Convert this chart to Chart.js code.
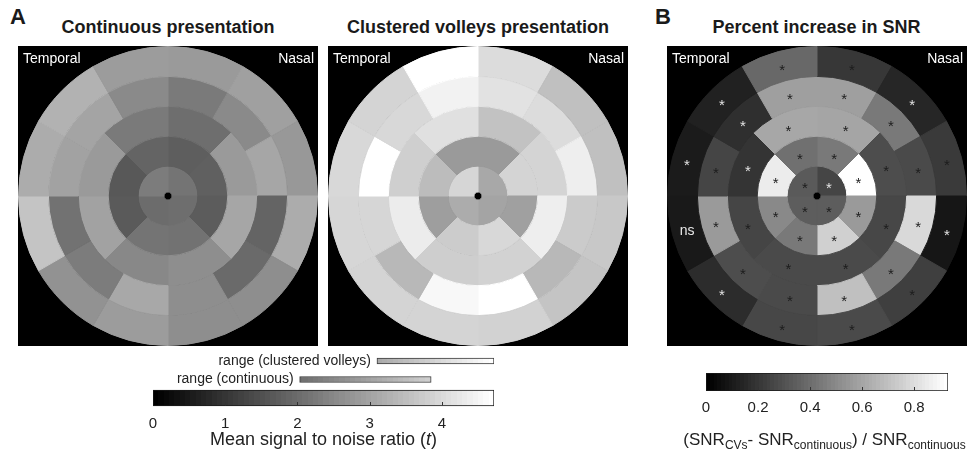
<!DOCTYPE html>
<html>
<head>
<meta charset="utf-8">
<script src="https://cdn.jsdelivr.net/npm/chart.js@4.4.1/dist/chart.umd.min.js"></script>
<style>
  body { margin: 0; background: #fff; font-family: "Liberation Sans", Arial, sans-serif; color: #1a1a1a; }
  #page { position: relative; width: 971px; height: 455px; overflow: hidden; }
  .txt { position: absolute; white-space: nowrap; line-height: 1; }
  .letter { font-size: 22px; font-weight: bold; top: 6.4px; }
  .title { font-size: 18px; font-weight: bold; top: 17.8px; width: 400px; text-align: center; }
  .panel { position: absolute; top: 46px; width: 300px; height: 300px; background: #000; }
  .side { position: absolute; top: 4.6px; color: #fff; font-size: 14px; line-height: 1; z-index: 2; }
  .box { position: absolute; }
  sub { font-size: 12px; vertical-align: -4px; line-height: 0; }
</style>
</head>
<body>
<div id="page">
  <div class="txt letter" style="left:10px">A</div>
  <div class="txt letter" style="left:655px">B</div>
  <div class="txt title" style="left:-32px">Continuous presentation</div>
  <div class="txt title" style="left:278px">Clustered volleys presentation</div>
  <div class="txt title" style="left:616.5px">Percent increase in SNR</div>

  <div class="panel" style="left:18px">
    <span class="side" style="left:5px">Temporal</span><span class="side" style="right:4px">Nasal</span>
    <canvas id="cont"></canvas>
  </div>
  <div class="panel" style="left:328px">
    <span class="side" style="left:5px">Temporal</span><span class="side" style="right:4px">Nasal</span>
    <canvas id="clus"></canvas>
  </div>
  <div class="panel" style="left:667px">
    <span class="side" style="left:5px">Temporal</span><span class="side" style="right:4px">Nasal</span>
    <canvas id="gain"></canvas>
  </div>

  <div class="box" style="left:0;top:340px;width:520px;height:100px"><canvas id="barA"></canvas></div>
  <div class="box" style="left:660px;top:360px;width:311px;height:70px"><canvas id="barB"></canvas></div>

  <div class="txt" style="left:123.5px;width:400px;text-align:center;top:429.8px;font-size:18px;color:#222">Mean signal to noise ratio (<i>t</i>)</div>
  <div class="txt" style="left:624.5px;width:400px;text-align:center;top:431.3px;font-size:17px;color:#222">(SNR<sub>CVs</sub>- SNR<sub>continuous</sub>) / SNR<sub>continuous</sub></div>
</div>

<script>
// sectors go clockwise from 12 o'clock; ring 1 is the centre, ring 5 the rim
const CONT_R1 = [2.15, 2.04, 2.00, 2.30];
const CONT_R2 = [1.74, 1.78, 1.70, 2.11, 2.15, 1.67, 1.63, 1.85];
const CONT_R3 = [2.04, 2.85, 3.07, 2.63, 2.52, 3.00, 2.85, 2.26];
const CONT_R4 = [2.26, 2.56, 3.07, 1.85, 1.96, 2.63, 3.11, 2.30, 2.11, 3.00, 3.04, 2.56];
const CONT_R5 = [2.85, 2.96, 2.81, 3.18, 2.63, 2.63, 2.89, 2.70, 3.63, 3.18, 3.30, 2.89];

const CLUS_R1 = [3.11, 3.04, 3.18, 3.96];
const CLUS_R2 = [2.85, 3.92, 2.96, 4.00, 3.78, 2.92, 3.48, 2.85];
const CLUS_R3 = [3.59, 3.92, 4.41, 3.89, 3.81, 4.37, 3.83, 4.15];
const CLUS_R4 = [4.18, 4.07, 4.41, 3.76, 3.41, 4.72, 4.59, 3.41, 3.96, 4.72, 4.00, 4.48];
const CLUS_R5 = [4.07, 3.55, 3.55, 3.70, 3.63, 3.89, 3.92, 3.92, 3.96, 4.00, 3.92, 4.72];

const GAIN_R1 = [0.25, 0.34, 0.34, 0.33];
const GAIN_R2 = [0.44, 0.93, 0.56, 0.76, 0.44, 0.50, 0.86, 0.41];
const GAIN_R3 = [0.60, 0.28, 0.26, 0.27, 0.27, 0.25, 0.19, 0.61];
const GAIN_R4 = [0.58, 0.44, 0.27, 0.79, 0.44, 0.70, 0.27, 0.28, 0.56, 0.25, 0.17, 0.58];
const GAIN_R5 = [0.20, 0.14, 0.21, 0.08, 0.23, 0.27, 0.26, 0.16, 0.09, 0.10, 0.12, 0.38];

// significance marks for panel B: k = dark star, w = light star, ns = not significant
const SIG_R1 = ['w', 'k', 'k', 'k'];
const SIG_R2 = ['k', 'k', 'k', 'k', 'k', 'k', 'k', 'k'];
const SIG_R3 = ['k', 'k', 'k', 'k', 'k', 'k', 'w', 'k'];
const SIG_R4 = ['k', 'k', 'k', 'k', 'k', 'k', 'k', 'k', 'k', 'k', 'w', 'k'];
const SIG_R5 = ['k', 'w', 'k', 'w', 'k', 'k', 'k', 'w', 'ns', 'w', 'w', 'k'];

const RANGE_LABELS = ['range (clustered volleys)', 'range (continuous)', ''];
const RANGE_CLUS = [3.10, 4.72];
const RANGE_CONT = [2.03, 3.85];
const SCALE_MAX_A = 4.72;
const SCALE_MAX_B = 0.93;
const TICKS_A = [0, 1, 2, 3, 4];
const TICKS_B = [0, 0.2, 0.4, 0.6, 0.8];

const FONT = '"Liberation Sans", Arial, sans-serif';
Chart.defaults.font.family = FONT;
Chart.defaults.color = '#222';

const gray = function (v, max) {
  const g = Math.round(Math.max(0, Math.min(1, v / max)) * 255);
  return `rgb(${g},${g},${g})`;
};

const ringData = function (rings, max) {
  // outermost dataset first, then a small black disc in the middle
  const sets = rings.slice().reverse().map((vals, i) => {
    const colors = vals.map((v) => gray(v, max));
    return {
      data: vals.map(() => 1),
      backgroundColor: colors,
      borderColor: colors, // same colour as the fill, hides the seams
      borderWidth: 1,
      weight: i === 4 ? 26 : 30,
    };
  });
  sets.push({ data: [1], backgroundColor: ['#000'], borderColor: ['#000'], borderWidth: 1, weight: 4 });
  return { datasets: sets };
};

const sectorMarks = function (codes) {
  return {
    id: 'sectorMarks',
    afterDatasetsDraw(chart) {
      const ctx = chart.ctx;
      ctx.save();
      ctx.textAlign = 'center';
      codes.forEach((ring, di) => {
        chart.getDatasetMeta(di).data.forEach((arc, i) => {
          const p = arc.tooltipPosition();
          if (ring[i] === 'ns') {
            ctx.font = '14px ' + FONT;
            ctx.fillStyle = '#e8e8e8';
            ctx.textBaseline = 'middle';
            ctx.fillText('ns', p.x, p.y);
          } else {
            ctx.font = '15px ' + FONT;
            ctx.fillStyle = ring[i] === 'w' ? '#e4e4e4' : '#1c1c1c';
            ctx.textBaseline = 'alphabetic';
            ctx.fillText('*', p.x, p.y + 9);
          }
        });
      });
      ctx.restore();
    },
  };
};

const ringOptions = {
  responsive: true,
  maintainAspectRatio: false,
  animation: false,
  events: [],
  cutout: 0,
  layout: { padding: 0 },
  plugins: { legend: { display: false }, tooltip: { enabled: false } },
};

new Chart(document.getElementById('cont'), {
  type: 'doughnut',
  data: ringData([CONT_R1, CONT_R2, CONT_R3, CONT_R4, CONT_R5], SCALE_MAX_A),
  options: ringOptions,
});

new Chart(document.getElementById('clus'), {
  type: 'doughnut',
  data: ringData([CLUS_R1, CLUS_R2, CLUS_R3, CLUS_R4, CLUS_R5], SCALE_MAX_A),
  options: ringOptions,
});

new Chart(document.getElementById('gain'), {
  type: 'doughnut',
  data: ringData([GAIN_R1, GAIN_R2, GAIN_R3, GAIN_R4, GAIN_R5], SCALE_MAX_B),
  options: ringOptions,
  plugins: [sectorMarks([SIG_R5, SIG_R4, SIG_R3, SIG_R2, SIG_R1])],
});

// stepped grey colour map, like a 64 level gray map
const grayFill = function (max) {
  return (c) => {
    const chart = c.chart;
    const x = chart.scales.x;
    if (!x || !chart.chartArea) return '#808080';
    const grad = chart.ctx.createLinearGradient(x.getPixelForValue(0), 0, x.getPixelForValue(max), 0);
    const n = 64;
    for (let k = 0; k < n; k++) {
      const g = Math.round((k / (n - 1)) * 255);
      const col = `rgb(${g},${g},${g})`;
      grad.addColorStop(k / n, col);
      grad.addColorStop((k + 1) / n, col);
    }
    return grad;
  };
};

const rowLabels = {
  id: 'rowLabels',
  afterDatasetsDraw(chart) {
    const ds = chart.data.datasets[0];
    const ctx = chart.ctx;
    ctx.save();
    ctx.font = '14px ' + FONT;
    ctx.fillStyle = '#222';
    ctx.textAlign = 'right';
    ctx.textBaseline = 'middle';
    chart.getDatasetMeta(0).data.forEach((bar, i) => {
      const label = chart.data.labels[i];
      if (!label || ds.data[i] == null) return;
      ctx.fillText(label, bar.base - 6, bar.y);
    });
    ctx.restore();
  },
};

const colorbarTicks = function (datasetIndex, ticks, max) {
  return {
    id: 'colorbarTicks',
    afterDatasetsDraw(chart) {
      const ds = chart.data.datasets[datasetIndex];
      const x = chart.scales.x;
      const ctx = chart.ctx;
      ctx.save();
      ctx.strokeStyle = '#333';
      ctx.lineWidth = 1;
      chart.getDatasetMeta(datasetIndex).data.forEach((bar, i) => {
        if (ds.data[i] == null) return;
        const bottom = bar.y + bar.height / 2;
        ticks.forEach((v) => {
          if (v <= 0 || v >= max) return;
          const px = Math.round(x.getPixelForValue(v)) + 0.5;
          ctx.beginPath();
          ctx.moveTo(px, bottom - 0.5);
          ctx.lineTo(px, bottom - 4);
          ctx.stroke();
        });
      });
      ctx.restore();
    },
  };
};

const barAxis = function (max, ticks) {
  return {
    type: 'linear',
    min: 0,
    max: max,
    grid: { display: false, drawTicks: false, tickLength: 0 },
    border: { display: false },
    afterBuildTicks: (scale) => {
      scale.ticks = ticks.map((v) => ({ value: v }));
    },
    afterFit: (scale) => {
      scale.height = 26;
    },
    ticks: { padding: 8, color: '#222', font: { size: 15 }, maxRotation: 0, callback: (v) => String(v) },
  };
};

const barOptions = function (max, ticks, padding) {
  return {
    indexAxis: 'y',
    responsive: true,
    maintainAspectRatio: false,
    animation: false,
    events: [],
    layout: { padding: padding },
    plugins: { legend: { display: false }, tooltip: { enabled: false } },
    scales: {
      x: barAxis(max, ticks),
      y: { display: false },
    },
  };
};

new Chart(document.getElementById('barA'), {
  type: 'bar',
  data: {
    labels: RANGE_LABELS,
    datasets: [
      {
        data: [RANGE_CLUS, RANGE_CONT, null],
        backgroundColor: grayFill(SCALE_MAX_A),
        borderColor: '#3a3a3a',
        borderWidth: 1,
        borderSkipped: false,
        barThickness: 6,
        grouped: false,
      },
      {
        data: [null, null, [0, SCALE_MAX_A]],
        backgroundColor: grayFill(SCALE_MAX_A),
        borderColor: '#1a1a1a',
        borderWidth: 1,
        borderSkipped: false,
        barThickness: 16,
        grouped: false,
      },
    ],
  },
  options: barOptions(SCALE_MAX_A, TICKS_A, { left: 153, right: 26, top: 11.75, bottom: 6.75 }),
  plugins: [rowLabels, colorbarTicks(1, TICKS_A, SCALE_MAX_A)],
});

new Chart(document.getElementById('barB'), {
  type: 'bar',
  data: {
    labels: [''],
    datasets: [
      {
        data: [[0, SCALE_MAX_B]],
        backgroundColor: grayFill(SCALE_MAX_B),
        borderColor: '#1a1a1a',
        borderWidth: 1,
        borderSkipped: false,
        categoryPercentage: 1,
        barPercentage: 1,
      },
    ],
  },
  options: barOptions(SCALE_MAX_B, TICKS_B, { left: 46, right: 23, top: 13, bottom: 13 }),
  plugins: [colorbarTicks(0, TICKS_B, SCALE_MAX_B)],
});
</script>
</body>
</html>
